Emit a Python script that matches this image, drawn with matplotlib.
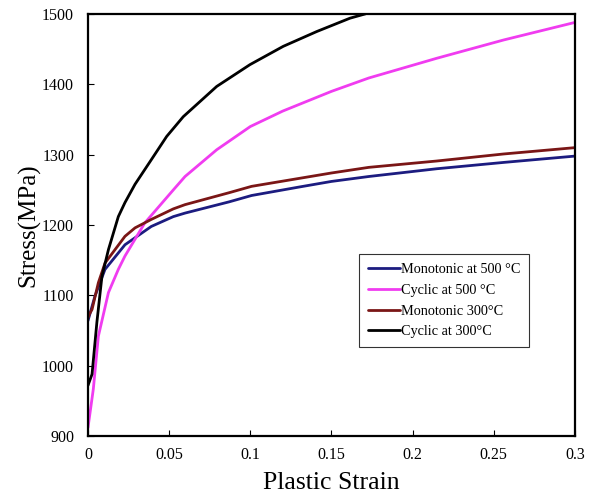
import matplotlib.pyplot as plt

plt.rcParams['font.family'] = ['Liberation Serif', 'DejaVu Serif']

# Monotonic at 500 C
mono500_x = [0, 0.0043, 0.0105, 0.0228, 0.039, 0.0526, 0.0598, 0.087, 0.1008, 0.13, 0.15, 0.173, 0.2148, 0.256, 0.3]
mono500_y = [1064, 1099, 1137, 1172, 1198, 1212, 1217, 1233, 1242, 1254, 1262, 1269, 1280, 1289, 1298]

# Cyclic at 500 C
cyc500_x = [0, 0.0033, 0.0064, 0.0126, 0.0187, 0.0228, 0.035, 0.0526, 0.0598, 0.0793, 0.1, 0.12, 0.15, 0.173, 0.2148, 0.256, 0.3]
cyc500_y = [912, 967, 1042, 1104, 1137, 1156, 1203, 1250, 1269, 1307, 1340, 1362, 1390, 1409, 1437, 1463, 1488]

# Monotonic 300 C
mono300_x = [0, 0.0008, 0.0025, 0.0064, 0.0105, 0.0228, 0.029, 0.039, 0.0526, 0.0598, 0.087, 0.1008, 0.15, 0.173, 0.2148, 0.256, 0.3]
mono300_y = [1068, 1073, 1080, 1118, 1146, 1184, 1196, 1208, 1223, 1229, 1246, 1255, 1274, 1282, 1291, 1301, 1310]

# Cyclic at 300 C
cyc300_x = [0, 0.0025, 0.0055, 0.0086, 0.0126, 0.0187, 0.0228, 0.029, 0.0382, 0.0485, 0.0587, 0.0793, 0.0998,
            0.1203, 0.1409, 0.1614, 0.1707, 0.18]
cyc300_y = [972, 988, 1062, 1127, 1165, 1212, 1232, 1258, 1290, 1326, 1354, 1397, 1428,
            1454, 1475, 1494, 1500, 1508]

fig = plt.figure(figsize=(5.92, 4.99), dpi=100)
ax = fig.add_axes([0.1486, 0.126, 0.8226, 0.846])

kw = dict(lw=2, solid_joinstyle='round', solid_capstyle='round')
ax.plot(mono500_x, mono500_y, color='#1c1c80', label='Monotonic at 500 °C', **kw)
ax.plot(cyc500_x, cyc500_y, color='#f03cf0', label='Cyclic at 500 °C', **kw)
ax.plot(mono300_x, mono300_y, color='#7a1616', label='Monotonic 300°C', **kw)
ax.plot(cyc300_x, cyc300_y, color='black', label='Cyclic at 300°C', **kw)

ax.set_xlim(0, 0.3)
ax.set_ylim(900, 1500)
ax.set_xticks([0, 0.05, 0.1, 0.15, 0.2, 0.25, 0.3])
ax.set_xticklabels(['0', '0.05', '0.1', '0.15', '0.2', '0.25', '0.3'])
ax.set_yticks(range(900, 1501, 100))
ax.tick_params(direction='in', length=4, width=0.8, labelsize=11.5)
ax.tick_params(axis='x', pad=8)
ax.tick_params(axis='y', pad=10)
for sp in ax.spines.values():
    sp.set_linewidth(1.6)

ax.set_xlabel('Plastic Strain', fontsize=18.5, labelpad=6)
ax.set_ylabel('Stress(MPa)', fontsize=18, labelpad=1)

leg = ax.legend(loc='lower right', bbox_to_anchor=(0.9055, 0.211), fontsize=10.3,
                handlelength=2.2, handletextpad=0.1, frameon=True, fancybox=False,
                edgecolor='black', borderpad=0.6, labelspacing=0.55, borderaxespad=0)
leg.get_frame().set_linewidth(0.8)

fig.savefig('out.png', dpi=100)
